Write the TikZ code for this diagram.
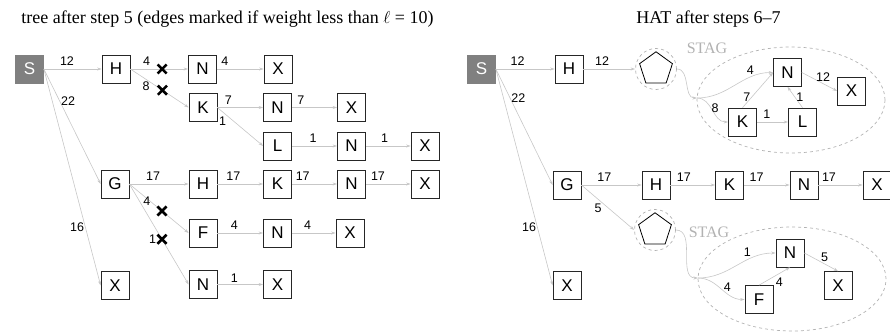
\documentclass[tikz,border=0pt]{standalone}
\usepackage{fontspec}
\setmainfont{Liberation Serif}
\setsansfont{Liberation Sans}
\usetikzlibrary{arrows.meta,shapes.geometric,shapes.misc}

\tikzset{
  box/.style={draw=black!85, fill=white, line width=0.7pt, minimum size=28pt, inner sep=0pt, font=\sffamily\fontsize{17}{17}\selectfont},
  src/.style={box, draw=black!50, fill=black!50, text=white},
  edge/.style={draw=black!22, line width=0.6pt, -{Stealth[length=4.5pt,width=3pt]}},
  lbl/.style={font=\sffamily\fontsize{12.5}{12.5}\selectfont, inner sep=1pt},
  cut/.style={cross out, draw=black, line width=2.6pt, minimum size=6.5pt, inner sep=0pt},
  stag/.style={draw=black!30, dashed, line width=0.7pt},
  hat/.style={regular polygon, regular polygon sides=5, draw=black, line width=0.8pt, minimum size=34.5pt, inner sep=0pt},
  hatring/.style={circle, stag, minimum size=41pt, inner sep=0pt},
  stagname/.style={text=black!30, font=\fontsize{16}{16}\selectfont},
  title/.style={font=\fontsize{18}{18}\selectfont}
}

\begin{document}
\begin{tikzpicture}[x=1pt, y=-1pt]
  \useasboundingbox (0,0) rectangle (890,332);

  % ---------- left: the tree ----------
  \node[title] at (227.5,19) {tree after step 5 (edges marked if weight less than $\ell$ = 10)};

  \node[src] (lS)  at (29.5,69)    {S};
  \node[box] (lH)  at (116,69)     {H};
  \node[box] (lN1) at (202.5,69)   {N};
  \node[box] (lX1) at (278,69)     {X};
  \node[box] (lK)  at (203,107.5)  {K};
  \node[box] (lN2) at (277.5,107.5){N};
  \node[box] (lX2) at (351.5,107.5){X};
  \node[box] (lL)  at (277.5,146)  {L};
  \node[box] (lN3) at (351.5,146)  {N};
  \node[box] (lX3) at (425,146)    {X};
  \node[box] (lG)  at (115,184)    {G};
  \node[box] (lH4) at (203,184)    {H};
  \node[box] (lK4) at (277.5,184)  {K};
  \node[box] (lN4) at (351.5,184)  {N};
  \node[box] (lX4) at (425,184)    {X};
  \node[box] (lF)  at (203,233)    {F};
  \node[box] (lN5) at (277.5,233)  {N};
  \node[box] (lX5) at (350,233)    {X};
  \node[box] (lN6) at (203,284.5)  {N};
  \node[box] (lX6) at (277.5,284.5){X};
  \node[box] (lX0) at (115,285.5)  {X};

  \draw[edge] (lS.east) -- node[lbl,pos=0.4,above=2pt] {12} (lH.west);
  \draw[edge] (lS.east) -- node[lbl,pos=0.28,anchor=west] {22} (lG.west);
  \draw[edge] (lS.east) -- node[lbl,pos=0.73,anchor=east] {16} (lX0.west);

  % marked edges
  \draw[edge] (lH.east) -- node[lbl,pos=0.28,above=2pt] {4} node[cut,pos=0.55] {} (lN1.west);
  \draw[edge] (lH.east) -- node[lbl,pos=0.27,below=1pt] {8} node[cut,pos=0.55] {} (lK.west);
  \draw[edge] (lG.east) -- node[lbl,pos=0.36,left=-1pt] {4} node[cut,pos=0.55] {} (lF.west);
  \draw[edge] (lG.east) -- node[lbl,pos=0.55,left=4.5pt] {1} node[cut,pos=0.55] {} (lN6.west);

  \draw[edge] (lN1.east) -- node[lbl,pos=0.17,above=2pt] {4} (lX1.west);
  \draw[edge] (lK.east)  -- node[lbl,pos=0.24,above=2pt] {7} (lN2.west);
  \draw[edge] (lN2.east) -- node[lbl,pos=0.2,above=2pt]  {7} (lX2.west);
  \draw[edge] (lK.east)  -- node[lbl,pos=0.22,below left=0pt] {1} (lL.west);
  \draw[edge] (lL.east)  -- node[lbl,pos=0.47,above=2pt] {1} (lN3.west);
  \draw[edge] (lN3.east) -- node[lbl,pos=0.42,above=2pt] {1} (lX3.west);
  \draw[edge] (lG.east)  -- node[lbl,pos=0.4,above=2pt]  {17} (lH4.west);
  \draw[edge] (lH4.east) -- node[lbl,pos=0.35,above=2pt] {17} (lK4.west);
  \draw[edge] (lK4.east) -- node[lbl,pos=0.24,above=2pt] {17} (lN4.west);
  \draw[edge] (lN4.east) -- node[lbl,pos=0.27,above=2pt] {17} (lX4.west);
  \draw[edge] (lF.east)  -- node[lbl,pos=0.37,above=2pt] {4} (lN5.west);
  \draw[edge] (lN5.east) -- node[lbl,pos=0.36,above=2pt] {4} (lX5.west);
  \draw[edge] (lN6.east) -- node[lbl,pos=0.37,above=1pt] {1} (lX6.west);

  % ---------- right: the HAT ----------
  \node[title] at (708.5,19) {HAT after steps 6–7};

  % STAG outlines
  \draw[stag] (791,100) ellipse [x radius=94pt, y radius=53pt];
  \draw[stag] (792,279) ellipse [x radius=94pt, y radius=52pt];
  \node[stagname] at (707,48)  {STAG};
  \node[stagname] at (709,232) {STAG};

  \node[src] (rS)  at (481.5,69)  {S};
  \node[box] (rH)  at (569,69)    {H};
  \node[hatring] (p1c) at (656,69) {};
  \node[hat] (p1)  at (656,69)    {};
  \coordinate (b1) at (697,98);
  \node[box] (rN1) at (787.5,72.5){N};
  \node[box] (rX1) at (851.5,91)  {X};
  \node[box] (rK1) at (742.5,122) {K};
  \node[box] (rL1) at (802.5,122) {L};

  \node[box] (rG)  at (567,185)   {G};
  \node[box] (rH2) at (656,185)   {H};
  \node[box] (rK2) at (729.5,185) {K};
  \node[box] (rN2) at (804,185)   {N};
  \node[box] (rX2) at (877,185)   {X};
  \node[hatring] (p2c) at (655,230) {};
  \node[hat] (p2)  at (655,230)   {};
  \coordinate (b2) at (698,278);
  \node[box] (rN3) at (790,253)   {N};
  \node[box] (rX3) at (838,285.5) {X};
  \node[box] (rF)  at (759,299.5) {F};
  \node[box] (rX0) at (567,285.5) {X};

  \draw[edge] (rS.east) -- node[lbl,pos=0.37,above=2pt] {12} (rH.west);
  \draw[edge] (rS.east) -- node[lbl,pos=0.25,anchor=west] {22} (rG.west);
  \draw[edge] (rS.east) -- node[lbl,pos=0.73,anchor=east] {16} (rX0.west);
  \draw[edge] (rH.east) -- node[lbl,pos=0.36,above=2pt] {12} (p1c.west);

  % first STAG
  \draw[edge] (p1c.east) to[out=0,in=180] (b1);
  \draw[edge] (b1) to[out=0,in=180] node[lbl,pos=0.72,above=2pt] {4} (rN1.west);
  \draw[edge] (b1) to[out=0,in=180] node[lbl,pos=0.6,above=0pt] {8} (rK1.west);
  \draw[edge] (rK1.north) -- node[lbl,pos=0.3,left=0pt] {7} (rN1.west);
  \draw[edge] (rK1.east) -- node[lbl,pos=0.32,above=2pt] {1} (rL1.west);
  \draw[edge] (rL1.north) -- node[lbl,pos=0.5,right=0pt] {1} (rN1.south);
  \draw[edge] (rN1.east) -- node[lbl,pos=0.6,above=1pt] {12} (rX1.west);

  % second row
  \draw[edge] (rG.east)  -- node[lbl,pos=0.38,above=2pt] {17} (rH2.west);
  \draw[edge] (rH2.east) -- node[lbl,pos=0.3,above=2pt]  {17} (rK2.west);
  \draw[edge] (rK2.east) -- node[lbl,pos=0.28,above=2pt] {17} (rN2.west);
  \draw[edge] (rN2.east) -- node[lbl,pos=0.24,above=2pt] {17} (rX2.west);
  \draw[edge] (rG.east)  -- node[lbl,pos=0.4,anchor=north east,inner sep=0.5pt] {5} (p2c.west);

  % second STAG
  \draw[edge] (p2c.east) to[out=0,in=180] (b2);
  \draw[edge] (b2) to[out=0,in=180] node[lbl,pos=0.65,above=2pt] {1} (rN3.west);
  \draw[edge] (b2) to[out=0,in=180] node[lbl,pos=0.65,above=1pt] {4} (rF.west);
  \draw[edge] (rF.north) -- node[lbl,pos=0.5,below right=0pt] {4} (rN3.south);
  \draw[edge] (rN3.east) -- node[lbl,pos=0.6,above=1pt] {5} (rX3.north);
\end{tikzpicture}
\end{document}
